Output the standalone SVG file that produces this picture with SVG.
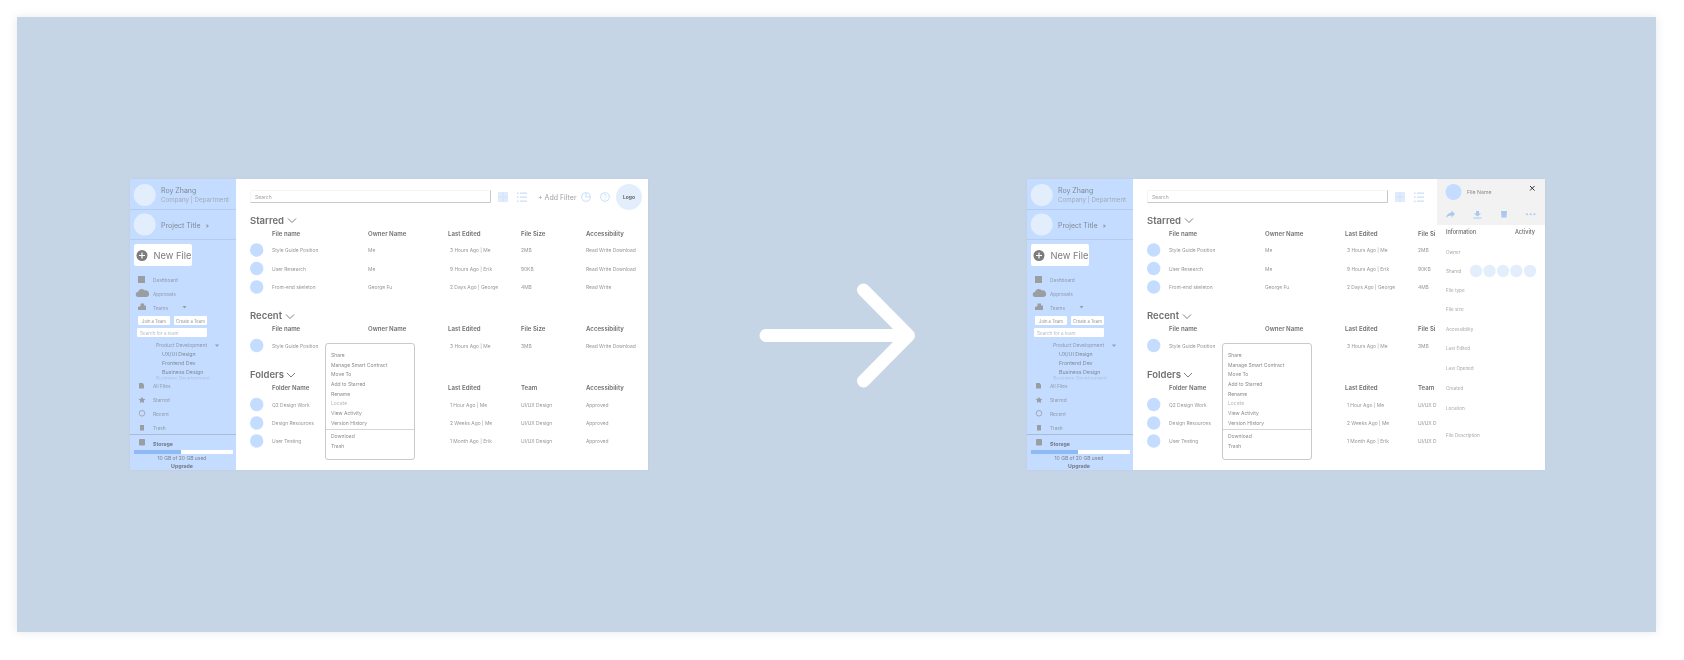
<svg xmlns="http://www.w3.org/2000/svg" width="1684" height="660" viewBox="0 0 1684 660">
<style>
text{font-family:"Inter","Liberation Sans",sans-serif;fill:#8a8a8a;font-size:5px;filter:url(#soft)}
.side{fill:#c4dcff}.white{fill:#fff}.av{fill:#e3eefc}.dot{fill:#c4dcff}.ic{fill:#9a9da1}.bl{fill:#c9e0fb}
.div{stroke:#b3cdf0;stroke-width:1;fill:none}
.h1{font-size:9.500px;font-weight:600;fill:#707070}
.th{font-size:6.100px;font-weight:600;fill:#707070}
.td{font-size:4.900px;fill:#979797}
.si{font-size:4.800px;fill:#8f9aa8}
.st{font-size:5.300px;fill:#7f8a98}
.sb{font-size:5.200px;fill:#6f7780;font-weight:700}
.name{font-size:7px;fill:#808890}
.sub{font-size:6.200px;fill:#a0abb8}
.mi{font-size:5px;fill:#8a8a8a}
.ml{font-size:5px;fill:#b8b8b8}
.il{font-size:4.600px;fill:#a8a8a8}
.nf{font-size:9.300px;fill:#7c7c7c}
.chev{fill:none;stroke:#707070;stroke-width:.9}
.menu{fill:#fff;stroke:#bcbcbc;stroke-width:.8}
.sbox{fill:#fff;stroke:#efefef;stroke-width:.6}
.blue{stroke:#c9e0fb;fill:none;stroke-width:1.100}
</style>
<defs>
<filter id="soft" x="-5%" y="-30%" width="110%" height="160%"><feGaussianBlur stdDeviation=".28"/></filter>
<filter id="sh" x="-3%" y="-6%" width="106%" height="112%"><feGaussianBlur stdDeviation="5"/></filter>
<filter id="sh2" x="-3%" y="-6%" width="106%" height="112%"><feGaussianBlur stdDeviation="1"/></filter>
</defs>
<rect width="1684" height="660" fill="#fff"/>
<rect x="17" y="17" width="1639" height="615" fill="#c4ccd6" opacity=".45" filter="url(#sh)"/>
<rect id="backdrop" x="17" y="17" width="1639" height="615" fill="#c5d5e6"/>

<g id="app-before">
<rect x="130" y="179" width="518" height="291" fill="#aebccb" opacity=".35" filter="url(#sh2)"/>
<rect class="white" x="130" y="179" width="518" height="291"/>
<rect class="side" x="130" y="179" width="106" height="291"/>
<g id="sidebar-before">
<circle class="av" cx="144.700" cy="195" r="11"/>
<text class="name" x="161" y="193">Roy Zhang</text>
<text class="sub" x="161" y="202">Company | Department</text>
<path class="div" d="M130 209.500H236M130 239.500H236"/>
<circle class="av" cx="144.700" cy="224.500" r="11"/>
<text class="name" x="161" y="228">Project Title</text>
<path class="ic" d="M206.500 224l2.500 2-2.500 2z"/>
<rect class="white" x="134" y="244" width="58" height="22" rx="2"/>
<circle cx="142" cy="255.500" r="5.500" fill="#7c7c7c"/>
<path d="M142 252.500v6M139 255.500h6" stroke="#fff" stroke-width="1.200"/>
<text class="nf" x="153.500" y="259">New File</text>
<rect class="ic" x="138" y="276" width="7" height="7"/>
<text class="si" x="153" y="281.500">Dashboard</text>
<path class="ic" d="M138.500 297a2.500 2.500 0 0 1-.5-5 4 4 0 0 1 7-1.500 3.200 3.200 0 0 1 1.500 6.500z"/>
<text class="si" x="153" y="296">Approvals</text>
<path class="ic" d="M138 310v-3l2.500-1v-2.500h3.500v2h2v4.500z"/>
<text class="si" x="153" y="310">Teams</text>
<path class="ic" d="M182.500 306h4l-2 2.500z"/>
<rect class="white" x="138" y="316" width="32" height="9" rx="1"/>
<text x="154" y="322.500" text-anchor="middle" style="font-size:4.200px;fill:#939393">Join a Team</text>
<rect class="white" x="174" y="316" width="33" height="9" rx="1"/>
<text x="190.500" y="322.500" text-anchor="middle" style="font-size:4.200px;fill:#939393">Create a Team</text>
<rect class="white" x="137" y="328" width="70" height="9" rx="1"/>
<text x="140" y="334.500" style="font-size:4.600px;fill:#b5bcc6">Search for a team</text>
<text class="si" x="156" y="347" style="font-size:5px">Product Development</text>
<path class="ic" d="M215 344.500h4l-2 2.500z"/>
<text class="st" x="162" y="355.500">UX/UI Design</text>
<text class="st" x="162" y="364.500">Frontend Dev</text>
<text class="st" x="162" y="373.500">Business Design</text>
<text x="156" y="379.500" style="font-size:5px;fill:#aec3df">Business Development</text>
<rect class="side" x="150" y="379.500" width="80" height="4"/>
<path class="ic" d="M139 383h3.500l1.500 1.500v4h-5z"/>
<text class="si" x="153" y="387.500">All Files</text>
<path class="ic" d="M142 396.800l1 2 2.400.3-1.700 1.600.4 2.300-2.100-1.100-2.100 1.100.4-2.300-1.700-1.600 2.400-.3z"/>
<text class="si" x="153" y="402">Starred</text>
<circle cx="142" cy="413.300" r="2.800" fill="none" stroke="#9a9da1" stroke-width=".8"/>
<text class="si" x="153" y="416">Recent</text>
<rect class="ic" x="140" y="425" width="4" height="5.500"/>
<text class="si" x="153" y="430">Trash</text>
<path d="M130 434.500H236" stroke="#a3b3c8" stroke-width=".8"/>
<rect class="ic" x="139" y="439" width="6" height="6.500" rx="1"/>
<text class="sb" x="153" y="445.500">Storage</text>
<rect class="white" x="134" y="450" width="99" height="4"/>
<rect x="134" y="450" width="47" height="4" fill="#8fb9f5"/>
<text x="182" y="460" text-anchor="middle" style="font-size:5px;fill:#7a828c">10 GB of 20 GB used</text>
<text class="sb" x="182" y="467.500" text-anchor="middle">Upgrade</text>
</g>
<g id="toolbar-before">
<rect class="sbox" x="250.500" y="190.500" width="240" height="12" rx=".5"/>
<path d="M250.500 202.500H490.500V190.500" fill="none" stroke="#b5b5b5" stroke-width=".7"/>
<text x="255" y="198.500" style="fill:#a5a5a5">Search</text>
<rect x="498" y="192" width="10" height="10" fill="#e0ecfc"/>
<path d="M503 192v10M498 197h10" stroke="#cfe1f8" stroke-width=".8"/>
<path class="bl" d="M517 192.500h1.500v1.500H517zM520 192.500h7v1.200h-7zM517 196.500h1.500v1.500H517zM520 196.500h7v1.200h-7zM517 200.500h1.500v1.500H517zM520 200.500h7v1.200h-7z"/>
<text x="538" y="199.500" style="font-size:7px;fill:#a0a0a0">+ Add Filter</text>
<circle class="blue" cx="586" cy="197" r="4.300"/><path class="blue" d="M586 192.700v4.300h4.300"/>
<circle class="blue" cx="605" cy="197" r="4.300"/><path class="blue" d="M603.800 195.800a1.300 1.300 0 1 1 1.600 1.300l-.4.700v.4M605 199.200v.6" style="stroke-width:.8"/>
<circle class="av" cx="629" cy="197" r="13"/>
<text x="629" y="199" text-anchor="middle" style="font-weight:700;fill:#666">Logo</text>
</g>
<g id="starred-before">
<text class="h1" x="250" y="223.500">Starred</text><path class="chev" d="M288 218.500l4 4 4-4"/>
<text class="th" x="272" y="236">File name</text><text class="th" x="368" y="236">Owner Name</text><text class="th" x="448" y="236">Last Edited</text><text class="th" x="521" y="236">File Size</text><text class="th" x="586" y="236">Accessibility</text>
<circle class="dot" cx="256.700" cy="250" r="6.700"/><text class="td" x="272" y="252">Style Guide Position</text><text class="td" x="368" y="252">Me</text><text class="td" x="450" y="252">3 Hours Ago | Me</text><text class="td" x="521" y="252">2MB</text><text class="td" x="586" y="252">Read Write Download</text>
<circle class="dot" cx="256.700" cy="268.500" r="6.700"/><text class="td" x="272" y="270.500">User Research</text><text class="td" x="368" y="270.500">Me</text><text class="td" x="450" y="270.500">9 Hours Ago | Erik</text><text class="td" x="521" y="270.500">90KB</text><text class="td" x="586" y="270.500">Read Write Download</text>
<circle class="dot" cx="256.700" cy="287" r="6.700"/><text class="td" x="272" y="289">Front-end skeleton</text><text class="td" x="368" y="289">George Fu</text><text class="td" x="450" y="289">2 Days Ago | George</text><text class="td" x="521" y="289">4MB</text><text class="td" x="586" y="289">Read Write</text>
</g>
<g id="recent-before">
<text class="h1" x="250" y="319">Recent</text><path class="chev" d="M286 314.500l4 4 4-4"/>
<text class="th" x="272" y="331">File name</text><text class="th" x="368" y="331">Owner Name</text><text class="th" x="448" y="331">Last Edited</text><text class="th" x="521" y="331">File Size</text><text class="th" x="586" y="331">Accessibility</text>
<circle class="dot" cx="256.700" cy="345.500" r="6.700"/><text class="td" x="272" y="347.500">Style Guide Position</text><text class="td" x="450" y="347.500">3 Hours Ago | Me</text><text class="td" x="521" y="347.500">3MB</text><text class="td" x="586" y="347.500">Read Write Download</text>
</g>
<g id="folders-before">
<text class="h1" x="250" y="377.500">Folders</text><path class="chev" d="M287 373l4 4 4-4"/>
<text class="th" x="272" y="390">Folder Name</text><text class="th" x="448" y="390">Last Edited</text><text class="th" x="521" y="390">Team</text><text class="th" x="586" y="390">Accessibility</text>
<circle class="dot" cx="256.700" cy="404.500" r="6.700"/><text class="td" x="272" y="406.500">Q2 Design Work</text><text class="td" x="450" y="406.500">1 Hour Ago | Me</text><text class="td" x="521" y="406.500">UI/UX Design</text><text class="td" x="586" y="406.500">Approved</text>
<circle class="dot" cx="256.700" cy="423" r="6.700"/><text class="td" x="272" y="425">Design Resources</text><text class="td" x="450" y="425">2 Weeks Ago | Me</text><text class="td" x="521" y="425">UI/UX Design</text><text class="td" x="586" y="425">Approved</text>
<circle class="dot" cx="256.700" cy="441" r="6.700"/><text class="td" x="272" y="443">User Testing</text><text class="td" x="450" y="443">1 Month Ago | Erik</text><text class="td" x="521" y="443">UI/UX Design</text><text class="td" x="586" y="443">Approved</text>
</g>
<g id="menu-before">
<rect class="menu" x="325.500" y="343.500" width="89" height="116" rx="2.500"/>
<text class="mi" x="331" y="357">Share</text><text class="mi" x="331" y="366.500">Manage Smart Contract</text><text class="mi" x="331" y="376">Move To</text><text class="mi" x="331" y="386">Add to Starred</text><text class="mi" x="331" y="396">Rename</text><text class="ml" x="331" y="405">Locate</text><text class="mi" x="331" y="415">View Activity</text><text class="mi" x="331" y="425">Version History</text>
<path d="M325.500 429.500H414.500" stroke="#c4c4c4" stroke-width=".7"/>
<text class="mi" x="331" y="438">Download</text><text class="mi" x="331" y="448">Trash</text>
</g>
</g>

<g id="arrow"><path d="M766 335.500H908.500M863.500 290L908.500 335.500L863.500 381" fill="none" stroke="#fff" stroke-width="13" stroke-linecap="round" stroke-linejoin="round"/></g>

<g id="app-after" transform="translate(897 0)">
<rect x="130" y="179" width="518" height="291" fill="#aebccb" opacity=".35" filter="url(#sh2)"/>
<rect class="white" x="130" y="179" width="518" height="291"/>
<rect class="side" x="130" y="179" width="106" height="291"/>
<g id="sidebar-after">
<circle class="av" cx="144.700" cy="195" r="11"/>
<text class="name" x="161" y="193">Roy Zhang</text>
<text class="sub" x="161" y="202">Company | Department</text>
<path class="div" d="M130 209.500H236M130 239.500H236"/>
<circle class="av" cx="144.700" cy="224.500" r="11"/>
<text class="name" x="161" y="228">Project Title</text>
<path class="ic" d="M206.500 224l2.500 2-2.500 2z"/>
<rect class="white" x="134" y="244" width="58" height="22" rx="2"/>
<circle cx="142" cy="255.500" r="5.500" fill="#7c7c7c"/>
<path d="M142 252.500v6M139 255.500h6" stroke="#fff" stroke-width="1.200"/>
<text class="nf" x="153.500" y="259">New File</text>
<rect class="ic" x="138" y="276" width="7" height="7"/>
<text class="si" x="153" y="281.500">Dashboard</text>
<path class="ic" d="M138.500 297a2.500 2.500 0 0 1-.5-5 4 4 0 0 1 7-1.500 3.200 3.200 0 0 1 1.500 6.500z"/>
<text class="si" x="153" y="296">Approvals</text>
<path class="ic" d="M138 310v-3l2.500-1v-2.500h3.500v2h2v4.500z"/>
<text class="si" x="153" y="310">Teams</text>
<path class="ic" d="M182.500 306h4l-2 2.500z"/>
<rect class="white" x="138" y="316" width="32" height="9" rx="1"/>
<text x="154" y="322.500" text-anchor="middle" style="font-size:4.200px;fill:#939393">Join a Team</text>
<rect class="white" x="174" y="316" width="33" height="9" rx="1"/>
<text x="190.500" y="322.500" text-anchor="middle" style="font-size:4.200px;fill:#939393">Create a Team</text>
<rect class="white" x="137" y="328" width="70" height="9" rx="1"/>
<text x="140" y="334.500" style="font-size:4.600px;fill:#b5bcc6">Search for a team</text>
<text class="si" x="156" y="347" style="font-size:5px">Product Development</text>
<path class="ic" d="M215 344.500h4l-2 2.500z"/>
<text class="st" x="162" y="355.500">UX/UI Design</text>
<text class="st" x="162" y="364.500">Frontend Dev</text>
<text class="st" x="162" y="373.500">Business Design</text>
<text x="156" y="379.500" style="font-size:5px;fill:#aec3df">Business Development</text>
<rect class="side" x="150" y="379.500" width="80" height="4"/>
<path class="ic" d="M139 383h3.500l1.500 1.500v4h-5z"/>
<text class="si" x="153" y="387.500">All Files</text>
<path class="ic" d="M142 396.800l1 2 2.400.3-1.700 1.600.4 2.300-2.100-1.100-2.100 1.100.4-2.300-1.700-1.600 2.400-.3z"/>
<text class="si" x="153" y="402">Starred</text>
<circle cx="142" cy="413.300" r="2.800" fill="none" stroke="#9a9da1" stroke-width=".8"/>
<text class="si" x="153" y="416">Recent</text>
<rect class="ic" x="140" y="425" width="4" height="5.500"/>
<text class="si" x="153" y="430">Trash</text>
<path d="M130 434.500H236" stroke="#a3b3c8" stroke-width=".8"/>
<rect class="ic" x="139" y="439" width="6" height="6.500" rx="1"/>
<text class="sb" x="153" y="445.500">Storage</text>
<rect class="white" x="134" y="450" width="99" height="4"/>
<rect x="134" y="450" width="47" height="4" fill="#8fb9f5"/>
<text x="182" y="460" text-anchor="middle" style="font-size:5px;fill:#7a828c">10 GB of 20 GB used</text>
<text class="sb" x="182" y="467.500" text-anchor="middle">Upgrade</text>
</g>
<g id="toolbar-after">
<rect class="sbox" x="250.500" y="190.500" width="240" height="12" rx=".5"/>
<path d="M250.500 202.500H490.500V190.500" fill="none" stroke="#b5b5b5" stroke-width=".7"/>
<text x="255" y="198.500" style="fill:#a5a5a5">Search</text>
<rect x="498" y="192" width="10" height="10" fill="#e0ecfc"/>
<path d="M503 192v10M498 197h10" stroke="#cfe1f8" stroke-width=".8"/>
<path class="bl" d="M517 192.500h1.500v1.500H517zM520 192.500h7v1.200h-7zM517 196.500h1.500v1.500H517zM520 196.500h7v1.200h-7zM517 200.500h1.500v1.500H517zM520 200.500h7v1.200h-7z"/>
</g>
<g id="starred-after">
<text class="h1" x="250" y="223.500">Starred</text><path class="chev" d="M288 218.500l4 4 4-4"/>
<text class="th" x="272" y="236">File name</text><text class="th" x="368" y="236">Owner Name</text><text class="th" x="448" y="236">Last Edited</text><text class="th" x="521" y="236">File Si</text>
<circle class="dot" cx="256.700" cy="250" r="6.700"/><text class="td" x="272" y="252">Style Guide Position</text><text class="td" x="368" y="252">Me</text><text class="td" x="450" y="252">3 Hours Ago | Me</text><text class="td" x="521" y="252">2MB</text>
<circle class="dot" cx="256.700" cy="268.500" r="6.700"/><text class="td" x="272" y="270.500">User Research</text><text class="td" x="368" y="270.500">Me</text><text class="td" x="450" y="270.500">9 Hours Ago | Erik</text><text class="td" x="521" y="270.500">90KB</text>
<circle class="dot" cx="256.700" cy="287" r="6.700"/><text class="td" x="272" y="289">Front-end skeleton</text><text class="td" x="368" y="289">George Fu</text><text class="td" x="450" y="289">2 Days Ago | George</text><text class="td" x="521" y="289">4MB</text>
</g>
<g id="recent-after">
<text class="h1" x="250" y="319">Recent</text><path class="chev" d="M286 314.500l4 4 4-4"/>
<text class="th" x="272" y="331">File name</text><text class="th" x="368" y="331">Owner Name</text><text class="th" x="448" y="331">Last Edited</text><text class="th" x="521" y="331">File Si</text>
<circle class="dot" cx="256.700" cy="345.500" r="6.700"/><text class="td" x="272" y="347.500">Style Guide Position</text><text class="td" x="450" y="347.500">3 Hours Ago | Me</text><text class="td" x="521" y="347.500">3MB</text>
</g>
<g id="folders-after">
<text class="h1" x="250" y="377.500">Folders</text><path class="chev" d="M287 373l4 4 4-4"/>
<text class="th" x="272" y="390">Folder Name</text><text class="th" x="448" y="390">Last Edited</text><text class="th" x="521" y="390">Team</text>
<circle class="dot" cx="256.700" cy="404.500" r="6.700"/><text class="td" x="272" y="406.500">Q2 Design Work</text><text class="td" x="450" y="406.500">1 Hour Ago | Me</text><text class="td" x="521" y="406.500">UI/UX D</text>
<circle class="dot" cx="256.700" cy="423" r="6.700"/><text class="td" x="272" y="425">Design Resources</text><text class="td" x="450" y="425">2 Weeks Ago | Me</text><text class="td" x="521" y="425">UI/UX D</text>
<circle class="dot" cx="256.700" cy="441" r="6.700"/><text class="td" x="272" y="443">User Testing</text><text class="td" x="450" y="443">1 Month Ago | Erik</text><text class="td" x="521" y="443">UI/UX D</text>
</g>
<g id="menu-after">
<rect class="menu" x="325.500" y="343.500" width="89" height="116" rx="2.500"/>
<text class="mi" x="331" y="357">Share</text><text class="mi" x="331" y="366.500">Manage Smart Contract</text><text class="mi" x="331" y="376">Move To</text><text class="mi" x="331" y="386">Add to Starred</text><text class="mi" x="331" y="396">Rename</text><text class="ml" x="331" y="405">Locate</text><text class="mi" x="331" y="415">View Activity</text><text class="mi" x="331" y="425">Version History</text>
<path d="M325.500 429.500H414.500" stroke="#c4c4c4" stroke-width=".7"/>
<text class="mi" x="331" y="438">Download</text><text class="mi" x="331" y="448">Trash</text>
</g>
</g>

<g id="info-panel">
<rect x="1437" y="179" width="108" height="46" fill="#f2f2f2"/>
<circle class="dot" cx="1453.500" cy="192" r="8"/>
<text x="1467" y="193.500" style="font-size:5.200px;fill:#8a8a8a">File Name</text>
<path d="M1530 186l4.500 4.500M1534.500 186l-4.500 4.500" stroke="#333" stroke-width="1"/>
<path style="fill:#a9c9f2" d="M1446 218c.5-3.500 2.500-5 5.500-5.500v-2l3.500 3.500-3.500 3.500v-2c-2.300 0-4 .8-5.500 2.500z"/>
<path style="fill:#a9c9f2" d="M1476 211h3v2.500h2l-3.500 3L1474 213.500h2zM1473.500 217.500h8v1h-8z"/>
<path style="fill:#a9c9f2" d="M1501 211h6l-.5 6.500h-5z"/>
<circle cx="1527" cy="214.200" r="1" style="fill:#a9c9f2"/><circle cx="1530.700" cy="214.200" r="1" style="fill:#a9c9f2"/><circle cx="1534.400" cy="214.200" r="1" style="fill:#a9c9f2"/>
<text x="1446" y="234" style="font-size:5.500px;fill:#6a6a6a;font-weight:500">Information</text>
<text x="1535" y="234" text-anchor="end" style="font-size:5.500px;fill:#6a6a6a;font-weight:500">Activity</text>
<text class="il" x="1446" y="253.500">Owner</text>
<text class="il" x="1446" y="272.500">Shared</text>
<circle class="av" cx="1476" cy="271" r="6.200"/><circle class="av" cx="1489.500" cy="271" r="6.200"/><circle class="av" cx="1503" cy="271" r="6.200"/><circle class="av" cx="1516.300" cy="271" r="6.200"/><circle class="av" cx="1530" cy="271" r="6.200"/>
<text class="il" x="1446" y="291.500">File type</text>
<text class="il" x="1446" y="311">File size</text>
<text class="il" x="1446" y="331">Accessibility</text>
<text class="il" x="1446" y="349.500">Last Edited</text>
<text class="il" x="1446" y="369.500">Last Opened</text>
<text class="il" x="1446" y="389.500">Created</text>
<text class="il" x="1446" y="409.500">Location</text>
<text class="il" x="1446" y="436.500">File Description</text>
</g>
</svg>
